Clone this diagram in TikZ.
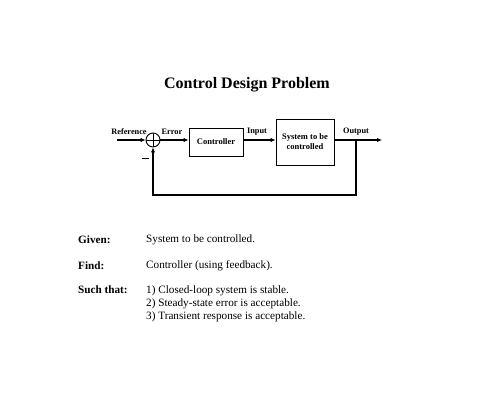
\documentclass[tikz,border=0pt]{standalone}
\usepackage{fontspec}
\setmainfont{Liberation Serif}
\usetikzlibrary{arrows.meta}
\begin{document}
\begin{tikzpicture}[x=1pt,y=-1pt,
  sig/.style={line width=1.4pt,-{Latex[length=5pt,width=4.5pt]}},
  blk/.style={draw,line width=0.9pt,align=center,font=\fontsize{8.5}{10}\selectfont\bfseries,inner sep=0pt},
  lbl/.style={font=\fontsize{8.3}{9}\selectfont\bfseries,inner sep=0pt},
  txt/.style={font=\fontsize{11.2}{13}\selectfont,anchor=west,inner sep=0pt,align=left},
  hd/.style={font=\fontsize{11.2}{13}\selectfont\bfseries,anchor=west,inner sep=0pt}]
\useasboundingbox (0,0) rectangle (500,406);
\node[font=\fontsize{16}{18}\selectfont\bfseries] (title) at (247,85) {Control Design Problem};
\coordinate (ref) at (117,140);
\node[draw,circle,line width=0.9pt,minimum size=14pt,inner sep=0pt] (sum) at (153,140) {};
\draw[line width=0.9pt] (sum.north) -- (sum.south) (sum.west) -- (sum.east);
\node[blk,minimum width=54pt,minimum height=28pt] (ctrl) at (216,142) {Controller};
\node[blk,minimum width=58pt,minimum height=46pt] (sys) at (305,142) {System to be\\controlled};
\coordinate (out) at (382,140);
\coordinate (br) at (356,140);
\coordinate (fb1) at (356,195);
\coordinate (fb2) at (153,195);
\draw[sig] (ref) -- (sum.west);
\draw[sig] (sum.east) -- (ctrl.west |- sum.east);
\draw[sig] (ctrl.east |- sum.east) -- (sys.west |- sum.east);
\draw[sig] (sys.east |- sum.east) -- (out);
\draw[sig] (br) -- (fb1) -- (fb2) -- (sum.south);
\node[lbl] (lref) at (129,132) {Reference};
\node[lbl] (lerr) at (172,132) {Error};
\node[lbl] (lin) at (257,132) {Input};
\node[lbl] (lout) at (356,132) {Output};
\draw[line width=1.8pt] (141.5,158.5) -- (148.5,158.5);
\node[hd] (given) at (78,240) {Given:};
\node[txt] (gv) at (146,240) {System to be controlled.};
\node[hd] (find) at (78,266) {Find:};
\node[txt] (fv) at (146,266) {Controller (using feedback).};
\node[hd,anchor=north west] (such) at (78,286) {Such that:};
\node[txt,anchor=north west] (sv) at (146,286) {1) Closed-loop system is stable.\\2) Steady-state error is acceptable.\\3) Transient response is acceptable.};
\end{tikzpicture}
\end{document}
